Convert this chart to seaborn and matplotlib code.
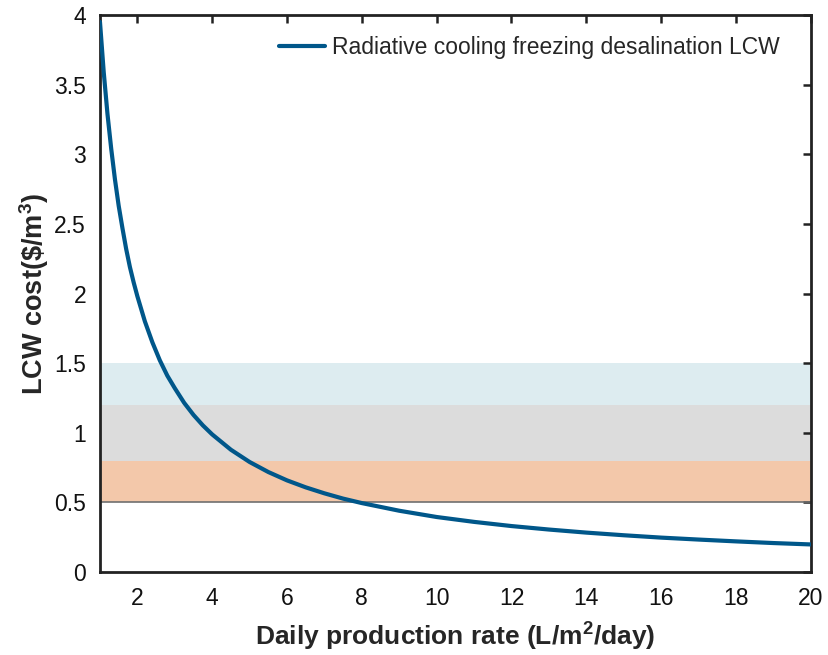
import matplotlib
matplotlib.use("Agg")
import matplotlib.pyplot as plt
import seaborn as sns
import pandas as pd

# Data
rate = [1.0, 1.1, 1.2, 1.3, 1.4, 1.5, 1.6, 1.7, 1.8, 1.9, 2.0, 2.2, 2.4, 2.6, 2.8,
        3.0, 3.25, 3.5, 3.75, 4.0, 4.5, 5.0, 5.5, 6.0, 6.5, 7.0, 7.5, 8, 9,
        10, 11, 12, 13, 14, 15, 16, 17, 18, 19, 20]
lcw = [3.95, 3.59, 3.29, 3.04, 2.82, 2.63, 2.47, 2.32, 2.19, 2.08, 1.98, 1.80, 1.65,
       1.52, 1.41, 1.32, 1.215, 1.128, 1.053, 0.988, 0.878, 0.79, 0.718, 0.658, 0.608,
       0.565, 0.527, 0.495, 0.44, 0.395, 0.36, 0.33, 0.305, 0.283, 0.264, 0.247,
       0.233, 0.22, 0.208, 0.198]
series_name = "Radiative cooling freezing desalination LCW"
bands = [(1.2, 1.5, "#DDECF0"), (0.8, 1.2, "#DCDCDC"), (0.5, 0.8, "#F3C8AA")]
xticks = [2, 4, 6, 8, 10, 12, 14, 16, 18, 20]
yticks = [0, 0.5, 1, 1.5, 2, 2.5, 3, 3.5, 4]
ytick_labels = ["0", "0.5", "1", "1.5", "2", "2.5", "3", "3.5", "4"]

sns.set_style("white")
plt.rcParams["font.family"] = ["Liberation Sans", "DejaVu Sans"]
plt.rcParams["mathtext.fontset"] = "custom"
plt.rcParams["mathtext.rm"] = "Liberation Sans"
plt.rcParams["mathtext.bf"] = "Liberation Sans:bold"

df = pd.DataFrame({"rate": rate, "lcw": lcw, "series": series_name})

fig = plt.figure(figsize=(8.29, 6.55), dpi=100)
ax = fig.add_axes([0.1206, 0.1267, 0.8574, 0.8504])

for lo, hi, c in bands:
    ax.axhspan(lo, hi, color=c, lw=0, zorder=0)
ax.axhline(0.5, color="#707070", lw=1.2, zorder=1)

sns.lineplot(data=df, x="rate", y="lcw", hue="series", palette=["#00578A"],
             lw=3, ax=ax, zorder=3)

ax.set_xlim(1, 20)
ax.set_ylim(0, 4)
ax.set_xticks(xticks)
ax.set_yticks(yticks)
ax.set_yticklabels(ytick_labels)
ax.tick_params(direction="in", length=6, width=1.8, top=True, right=True,
               labelsize=16.5, colors="#222222", labelcolor="#111111")
ax.tick_params(axis="x", pad=11)
ax.tick_params(axis="y", pad=10)
for s in ax.spines.values():
    s.set_linewidth(2)
    s.set_color("#222222")

ax.set_xlabel(r"Daily production rate (L/m$^{\mathbf{2}}$/day)", fontsize=19,
              fontweight="bold", labelpad=6)
ax.set_ylabel(r"LCW cost(\$/m$^{\mathbf{3}}$)", fontsize=19.5, fontweight="bold",
              labelpad=2)

leg = ax.legend(loc="upper right", frameon=False, fontsize=16.5, handlelength=2.0,
                handletextpad=0.3, bbox_to_anchor=(0.985, 1.0))

fig.savefig("out.png", dpi=100)
